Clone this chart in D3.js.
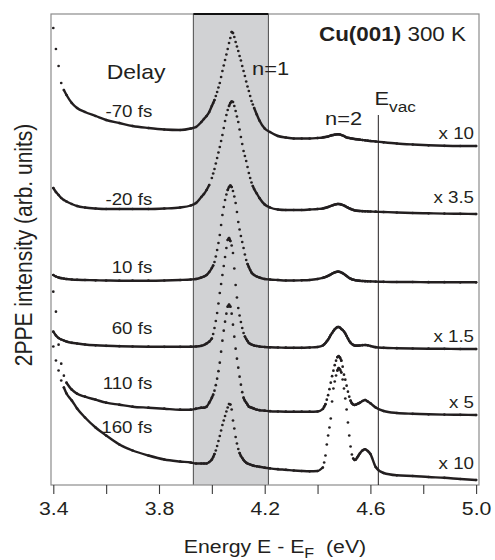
<!DOCTYPE html>
<html>
<head>
<meta charset="utf-8">
<script src="https://cdn.jsdelivr.net/npm/d3@7"></script>
<style>
  body { margin: 0; background: #fff; }
  svg { display: block; }
  text { font-family: "Liberation Sans", Arial, Helvetica, sans-serif; fill: #231f20; white-space: pre; }
</style>
</head>
<body>
<svg id="chart" width="495" height="560"></svg>
<script>
// energy grid (eV), finer where the peaks are
const energy = [3.40, 3.41, 3.42, 3.43, 3.44, 3.45,
    3.47, 3.49, 3.52, 3.56, 3.60, 3.65, 3.70, 3.76, 3.82, 3.88,
    3.92, 3.94, 3.96,
    3.97, 3.98, 3.99,
    4.000, 4.005, 4.010, 4.015, 4.020, 4.025, 4.030, 4.035, 4.040, 4.045, 4.050, 4.055, 4.060, 4.065, 4.070, 4.075,
    4.080, 4.085, 4.090, 4.095, 4.100, 4.105, 4.110, 4.115, 4.120, 4.125, 4.130, 4.135, 4.140, 4.145, 4.150, 4.155, 4.160,
    4.17, 4.18,
    4.20, 4.22, 4.25, 4.28, 4.31, 4.34, 4.37, 4.40,
    4.420, 4.425, 4.430, 4.435, 4.440, 4.445, 4.450, 4.455, 4.460, 4.465, 4.470, 4.475, 4.480, 4.485, 4.490,
    4.495, 4.500, 4.505, 4.510, 4.515, 4.520, 4.525, 4.530, 4.535, 4.540, 4.545, 4.550, 4.555, 4.560,
    4.57, 4.58, 4.59, 4.60,
    4.62, 4.65, 4.70, 4.76, 4.82, 4.88, 4.94, 5.00];

// intensities above each trace's own baseline (arb. units, already scaled)
const m70 = [11.0, 8.9, 7.2, 5.5, 4.8, 4.3,
    3.5, 3.0, 2.6, 2.2, 1.8, 1.5, 1.2, 1.0, 0.85, 0.8,
    0.95, 1.1, 1.6,
    1.9, 2.2, 2.6,
    3.2, 3.5, 3.8, 4.2, 4.6, 5.05, 5.5, 6.1, 6.7, 7.25, 7.8, 8.35, 8.9, 9.5, 10.0, 10.6,
    10.5, 10.1, 9.6, 9.15, 8.7, 8.2, 7.75, 7.2, 6.7, 6.2, 5.65, 5.15, 4.7, 4.2, 3.7, 3.35, 3.0,
    2.35, 1.75,
    0.95, 0.6, 0.2, 0.05, -0.05, -0.05, -0.05, 0,
    0.05, 0.08, 0.1, 0.12, 0.15, 0.2, 0.25, 0.28, 0.3, 0.33, 0.35, 0.37, 0.37, 0.35, 0.3,
    0.25, 0.2, 0.12, 0.05, 0.02, 0, -0.03, -0.05, -0.08, -0.1, -0.12, -0.13, -0.15, -0.17,
    -0.2, -0.23, -0.27, -0.3,
    -0.35, -0.43, -0.55, -0.65, -0.73, -0.78, -0.8, -0.8];
const m20 = [2.2, 1.8, 1.5, 1.2, 1.0, 0.85,
    0.6, 0.4, 0.25, 0.15, 0.1, 0.1, 0.1, 0.1, 0.15, 0.25,
    0.45, 0.7, 1.3,
    1.6, 2.0, 2.5,
    3.2, 3.65, 4.1, 4.65, 5.2, 5.75, 6.3, 6.9, 7.5, 8.2, 8.9, 9.5, 10.0, 10.4, 10.7, 10.85,
    10.8, 10.4, 9.9, 9.35, 8.8, 8.05, 7.3, 6.6, 5.9, 5.4, 4.9, 4.3, 3.7, 3.2, 2.75, 2.4, 2.1,
    1.65, 1.2,
    0.55, 0.25, 0.05, 0, 0, 0, 0.05, 0.1,
    0.15, 0.18, 0.22, 0.26, 0.3, 0.35, 0.4, 0.45, 0.5, 0.54, 0.57, 0.6, 0.6, 0.58, 0.55,
    0.5, 0.45, 0.38, 0.3, 0.23, 0.17, 0.11, 0.05, 0.01, -0.03, -0.06, -0.08, -0.09, -0.1,
    -0.12, -0.13, -0.14, -0.15,
    -0.17, -0.2, -0.25, -0.3, -0.33, -0.36, -0.38, -0.4];
const p10 = [0.5, 0.35, 0.25, 0.18, 0.14, 0.1,
    0.05, 0.02, 0, -0.03, -0.05, -0.07, -0.07, -0.07, -0.05, 0,
    0.05, 0.1, 0.25,
    0.35, 0.5, 0.8,
    1.2, 1.45, 1.8, 2.35, 3.0, 3.7, 4.5, 5.5, 6.5, 7.3, 8.0, 8.55, 9.0, 9.3, 9.45, 9.3,
    8.9, 8.35, 7.7, 6.8, 5.8, 5.05, 4.4, 3.8, 3.2, 2.55, 2.0, 1.6, 1.3, 1.0, 0.75, 0.6, 0.5,
    0.35, 0.25,
    0.1, 0.05, 0, -0.05, -0.05, -0.03, 0, 0.1,
    0.22, 0.26, 0.3, 0.36, 0.42, 0.48, 0.55, 0.63, 0.7, 0.76, 0.8, 0.83, 0.83, 0.8, 0.75,
    0.68, 0.6, 0.5, 0.4, 0.3, 0.2, 0.13, 0.07, 0.03, 0, -0.03, -0.05, -0.07, -0.08,
    -0.1, -0.12, -0.13, -0.14,
    -0.16, -0.18, -0.2, -0.2, -0.22, -0.22, -0.23, -0.23];
const p60 = [1.58, 1.2, 0.95, 0.8, 0.7, 0.6,
    0.47, 0.4, 0.3, 0.22, 0.17, 0.13, 0.1, 0.08, 0.07, 0.07,
    0.08, 0.1, 0.17,
    0.25, 0.4, 0.58,
    0.9, 1.35, 1.95, 2.65, 3.45, 4.4, 5.45, 6.35, 7.25, 8.15, 9.05, 9.95, 10.75, 10.95, 10.65, 10.2,
    9.45, 7.9, 6.25, 5.0, 3.95, 3.2, 2.55, 1.95, 1.45, 1.1, 0.85, 0.65, 0.45, 0.37, 0.3, 0.25, 0.2,
    0.15, 0.1,
    0.05, 0.02, 0, -0.02, -0.03, -0.03, 0, 0.05,
    0.2, 0.32, 0.45, 0.62, 0.8, 1.02, 1.25, 1.45, 1.65, 1.82, 1.95, 2.03, 2.05, 1.98, 1.85,
    1.75, 1.6, 1.4, 1.15, 0.9, 0.65, 0.48, 0.35, 0.26, 0.2, 0.18, 0.18, 0.19, 0.2,
    0.23, 0.25, 0.22, 0.15,
    0.03, -0.03, -0.07, -0.1, -0.12, -0.13, -0.15, -0.15];
const p110 = [12.0, 10.0, 6.7, 4.8, 3.6, 2.9,
    2.2, 1.8, 1.5, 1.2, 0.9, 0.7, 0.5, 0.4, 0.3, 0.2,
    0.2, 0.3, 0.4,
    0.4, 0.5, 0.9,
    1.4, 1.7, 2.1, 2.65, 3.3, 4.05, 4.9, 6.0, 7.1, 8.1, 9.0, 9.8, 10.5, 10.7, 10.5, 9.8,
    8.7, 7.5, 6.3, 5.3, 4.4, 3.5, 2.7, 1.95, 1.4, 1.1, 0.9, 0.7, 0.5, 0.45, 0.4, 0.35, 0.3,
    0.2, 0.15,
    0.1, 0.05, 0.02, 0, 0, 0, 0, 0.02,
    0.27, 0.5, 0.75, 1.2, 1.65, 2.25, 2.9, 3.55, 4.1, 4.65, 5.1, 5.45, 5.55, 5.4, 5.1,
    4.5, 3.7, 3.2, 2.6, 2.0, 1.5, 1.1, 0.85, 0.72, 0.67, 0.7, 0.77, 0.83, 0.9,
    1.07, 1.17, 1.02, 0.84,
    0.42, 0.07, -0.13, -0.21, -0.26, -0.29, -0.31, -0.33];
const p160 = [12.4, 11.0, 10.0, 9.0, 8.3, 7.7,
    7.0, 6.2, 5.3, 4.3, 3.5, 2.6, 2.0, 1.5, 1.1, 0.9,
    0.8, 0.7, 0.7,
    0.7, 0.7, 0.85,
    1.1, 1.35, 1.65, 2.0, 2.45, 2.95, 3.45, 4.0, 4.55, 5.0, 5.45, 5.9, 6.3, 6.65, 6.6, 6.1,
    5.0, 4.2, 3.35, 2.7, 2.15, 1.75, 1.45, 1.25, 1.05, 0.9, 0.78, 0.7, 0.65, 0.6, 0.55, 0.5, 0.47,
    0.42, 0.37,
    0.28, 0.21, 0.13, 0.07, 0, -0.05, -0.08, -0.05,
    0.3, 0.8, 1.5, 2.6, 3.5, 4.3, 5.2, 6.9, 8.2, 8.9, 9.5, 10.0, 10.25, 10.1, 9.8,
    9.1, 8.2, 7.2, 6.1, 4.8, 3.5, 2.4, 1.6, 1.2, 1.05, 1.1, 1.3, 1.5, 1.7,
    2.0, 2.12, 1.95, 1.65,
    0.35, -0.25, -0.48, -0.55, -0.65, -0.73, -0.85, -0.95];

const spectra = [m70, m20, p10, p60, p110, p160];
const delays = ["-70 fs", "-20 fs", "10 fs", "60 fs", "110 fs", "160 fs"];
const factors = ["x 10", "x 3.5", "", "x 1.5", "x 5", "x 10"];
const offsets = [34.7, 27.5, 20.5, 13.75, 7.33, 1.45];

const tickValues = [3.4, 3.6, 3.8, 4.0, 4.2, 4.4, 4.6, 4.8, 5.0];
const tickLabels = ["3.4", "", "3.8", "", "4.2", "", "4.6", "", "5.0"];
const band = [3.93, 4.214];
const eVac = 4.63;

// layout
const frame = { left: 51, right: 479, top: 14, bottom: 485 };
const delayLabelY = [116.7, 205, 272.7, 334.3, 389.3, 432.7];
const factorLabelY = [139.3, 203.3, 0, 341.7, 407.7, 469.3];
const stretch = 1.15;   // the original lettering is a bit wide
const ink = "#231f20";

const svg = d3.select("#chart");
const x = d3.scaleLinear().domain([3.4, 5.0]).range([53.3, 476.1]);
const y = d3.scaleLinear().domain([0, 47.1]).range([frame.bottom, frame.top]);

function label(txt, px, py, size, anchor) {
    return svg.append("text")
        .attr("transform", `translate(${px},${py}) scale(${stretch},1)`)
        .attr("text-anchor", anchor || "start")
        .attr("font-size", size)
        .text(txt);
}

// shaded n=1 window
svg.append("rect")
    .attr("x", x(band[0])).attr("y", frame.top)
    .attr("width", x(band[1]) - x(band[0]))
    .attr("height", frame.bottom - frame.top)
    .attr("fill", "#d1d2d4");
band.forEach(b => {
    svg.append("line")
        .attr("x1", x(b)).attr("x2", x(b))
        .attr("y1", frame.top).attr("y2", frame.bottom)
        .attr("stroke", "#4a4a4a").attr("stroke-width", 1);
});

// frame
svg.append("rect")
    .attr("x", frame.left).attr("y", frame.top)
    .attr("width", frame.right - frame.left)
    .attr("height", frame.bottom - frame.top)
    .attr("fill", "none")
    .attr("stroke", "#8c8c8c").attr("stroke-width", 1.2);
svg.append("line")
    .attr("x1", x(band[0])).attr("x2", x(band[1]))
    .attr("y1", frame.top).attr("y2", frame.top)
    .attr("stroke", "#111").attr("stroke-width", 2.2);

// vacuum level
svg.append("line")
    .attr("x1", x(eVac)).attr("x2", x(eVac))
    .attr("y1", 115).attr("y2", frame.bottom)
    .attr("stroke", ink).attr("stroke-width", 1);

// spectra: a dot per data point, joined where the trace is shallow
const lineGen = d3.line().curve(d3.curveMonotoneX);
spectra.forEach((vals, i) => {
    const pts = energy.map((e, j) => [x(e), y(offsets[i] + vals[j])]);
    const runs = [];
    let run = [pts[0]];
    for (let j = 1; j < pts.length; j++) {
        const dx = pts[j][0] - pts[j - 1][0];
        const dy = Math.abs(pts[j][1] - pts[j - 1][1]);
        if (dy <= 2.5 * dx) run.push(pts[j]);
        else { runs.push(run); run = [pts[j]]; }
    }
    runs.push(run);

    const g = svg.append("g").attr("class", "trace");
    g.selectAll("path")
        .data(runs.filter(r => r.length > 1))
        .join("path")
        .attr("d", lineGen)
        .attr("fill", "none")
        .attr("stroke", ink)
        .attr("stroke-width", 2.4)
        .attr("stroke-linejoin", "round")
        .attr("stroke-linecap", "round");
    g.selectAll("circle")
        .data(pts)
        .join("circle")
        .attr("cx", d => d[0])
        .attr("cy", d => d[1])
        .attr("r", 1.35)
        .attr("fill", ink);
});

// x axis
const axis = d3.axisBottom(x)
    .tickValues(tickValues)
    .tickSize(9)
    .tickPadding(8)
    .tickFormat((d, i) => tickLabels[i]);
const ax = svg.append("g")
    .attr("transform", `translate(0,${frame.bottom})`)
    .call(axis)
    .attr("font-family", null)
    .attr("font-size", null);
ax.select(".domain").remove();
ax.selectAll(".tick line").attr("stroke", "#3a3a3a").attr("stroke-width", 1.1);
ax.selectAll(".tick text")
    .attr("font-size", 18.5)
    .attr("fill", ink)
    .attr("transform", `scale(${stretch},1)`);

// axis titles
const xt = svg.append("text")
    .attr("transform", `translate(275,553) scale(${stretch},1)`)
    .attr("text-anchor", "middle")
    .attr("font-size", 18.5);
xt.append("tspan").text("Energy E - E");
xt.append("tspan").attr("font-size", 14).attr("dy", 5).text("F");
xt.append("tspan").attr("dy", -5).text("  (eV)");

svg.append("text")
    .attr("transform", `translate(31.5,245) scale(${stretch},1) rotate(-90)`)
    .attr("text-anchor", "middle")
    .attr("font-size", 21)
    .text("2PPE intensity (arb. units)");

// annotations
label("Delay", 106.7, 79.3, 20);
delays.forEach((d, i) => label(d, 152.3, delayLabelY[i], 16.3, "end"));
factors.forEach((f, i) => { if (f) label(f, 474, factorLabelY[i], 16.3, "end"); });
label("n=1", 252, 75, 19);
label("n=2", 325, 125, 19);

const ev = svg.append("text")
    .attr("transform", `translate(374.5,105) scale(${stretch},1)`)
    .attr("font-size", 19);
ev.append("tspan").text("E");
ev.append("tspan").attr("font-size", 15).attr("dy", 7).text("vac");

const title = svg.append("text")
    .attr("transform", `translate(466,40.5) scale(${stretch},1)`)
    .attr("text-anchor", "end")
    .attr("font-size", 19.5);
title.append("tspan").attr("font-weight", "bold").text("Cu(001)");
title.append("tspan").text(" 300 K");
</script>
</body>
</html>
